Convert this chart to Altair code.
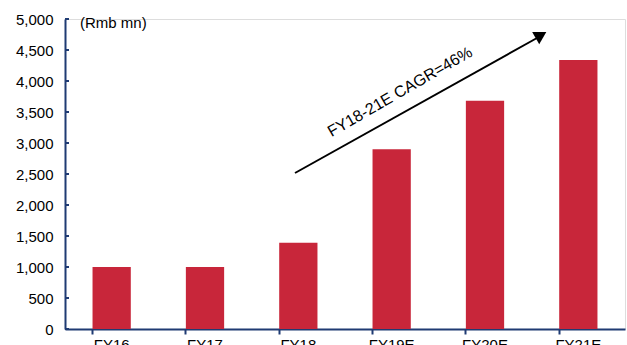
import altair as alt
import pandas as pd

categories = ["FY16", "FY17", "FY18", "FY19E", "FY20E", "FY21E"]
values = [1000, 1000, 1390, 2900, 3680, 4340]
y_ticks = [0, 500, 1000, 1500, 2000, 2500, 3000, 3500, 4000, 4500, 5000]
unit_label = "(Rmb mn)"
cagr_label = "FY18-21E  CAGR=46%"

AXIS = "#1F3B73"
BAR = "#C8263A"
FONT = "Liberation Sans"

df = pd.DataFrame({"cat": categories, "val": values})
ticks_df = pd.DataFrame({"t": y_ticks})

x_enc = alt.X("cat:N", sort=categories, title=None,
              scale=alt.Scale(paddingInner=0.59, paddingOuter=0.295),
              axis=alt.Axis(labelAngle=0, bandPosition=0, tickSize=5, tickWidth=2,
                            tickColor=AXIS, domainColor=AXIS, domainWidth=2,
                            labelPadding=3, labelFontSize=15, labelFont=FONT,
                            labelColor="black", grid=False))
y_scale = alt.Scale(domain=[0, 5000], nice=False)
y_axis = alt.Axis(values=y_ticks, format=",d", tickSize=0, domainColor=AXIS,
                  domainWidth=2, labelPadding=12, labelFontSize=15,
                  labelFont=FONT, labelColor="black", grid=False, title=None)

bars = alt.Chart(df).mark_bar(color=BAR).encode(
    x=x_enc,
    y=alt.Y("val:Q", scale=y_scale, title=None, axis=y_axis),
)

yticks = alt.Chart(ticks_df).mark_rule(color=AXIS, strokeWidth=2).encode(
    y=alt.Y("t:Q", scale=y_scale, title=None, axis=y_axis),
    x=alt.value(0),
    x2=alt.value(4),
)

unit = alt.Chart(pd.DataFrame({"l": [unit_label]})).mark_text(
    font=FONT, fontSize=15, align="left", baseline="middle", color="black"
).encode(x=alt.value(15), y=alt.value(4), text="l:N")

arrow_line = alt.Chart(pd.DataFrame({"a": [0]})).mark_rule(color="black", strokeWidth=2).encode(
    x=alt.value(230), y=alt.value(154), x2=alt.value(472), y2=alt.value(19)
)
arrow_head = alt.Chart(pd.DataFrame({"a": [0]})).mark_point(
    shape="triangle-up", filled=True, color="black", size=200, angle=60, opacity=1
).encode(x=alt.value(476), y=alt.value(16))

cagr = alt.Chart(pd.DataFrame({"l": [cagr_label]})).mark_text(
    font=FONT, fontSize=16, align="center", baseline="middle", color="black", angle=330
).encode(x=alt.value(335), y=alt.value(73), text="l:N")

chart = alt.layer(bars, yticks, unit, arrow_line, arrow_head, cagr).properties(
    width=560, height=310,
    padding={"left": 65, "top": 19, "right": 2, "bottom": 16},
    autosize=alt.AutoSizeParams(type="none"),
).configure_view(stroke=None).configure(background="white")

chart.save("out.html", embed_options={"renderer": "svg", "actions": False})
